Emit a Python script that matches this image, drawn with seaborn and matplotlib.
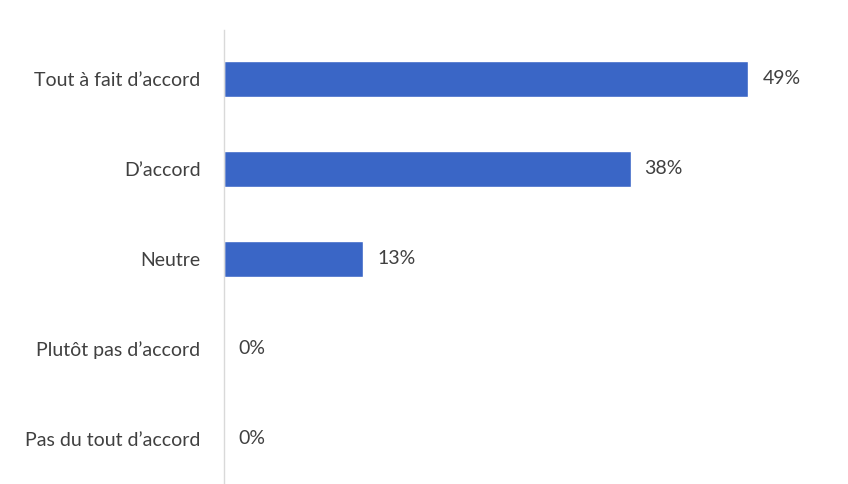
import matplotlib
matplotlib.use("Agg")
import matplotlib.pyplot as plt
import seaborn as sns
import pandas as pd

categories = ["Tout à fait d’accord", "D’accord", "Neutre", "Plutôt pas d’accord", "Pas du tout d’accord"]
values = [49, 38, 13, 0, 0]
value_labels = ["49%", "38%", "13%", "0%", "0%"]

sns.set_style("white")
plt.rcParams['font.family'] = ['Lato', 'DejaVu Sans']

df = pd.DataFrame({"cat": categories, "val": values})

fig = plt.figure(figsize=(8.48, 4.84), dpi=100)
ax = fig.add_axes([224/848, 0, 1 - 224/848, (484-30)/484])

sns.barplot(data=df, y="cat", x="val", orient="h", color="#3a66c6",
            saturation=1, width=0.4, ax=ax)

ax.set_xlim(0, 58.3)
ax.set_ylim(4.5, -0.544)
ax.set_xlabel("")
ax.set_ylabel("")
ax.set_xticks([])
for s in ["top", "right", "bottom"]:
    ax.spines[s].set_visible(False)
ax.spines["left"].set_color("#d9d9d9")
ax.spines["left"].set_linewidth(1.0)
ax.tick_params(axis="y", length=0, pad=17, labelsize=14, labelcolor="#404040")

ax.bar_label(ax.containers[0], labels=value_labels, padding=10,
             fontsize=14, color="#404040")

fig.savefig("out.png", dpi=100)
